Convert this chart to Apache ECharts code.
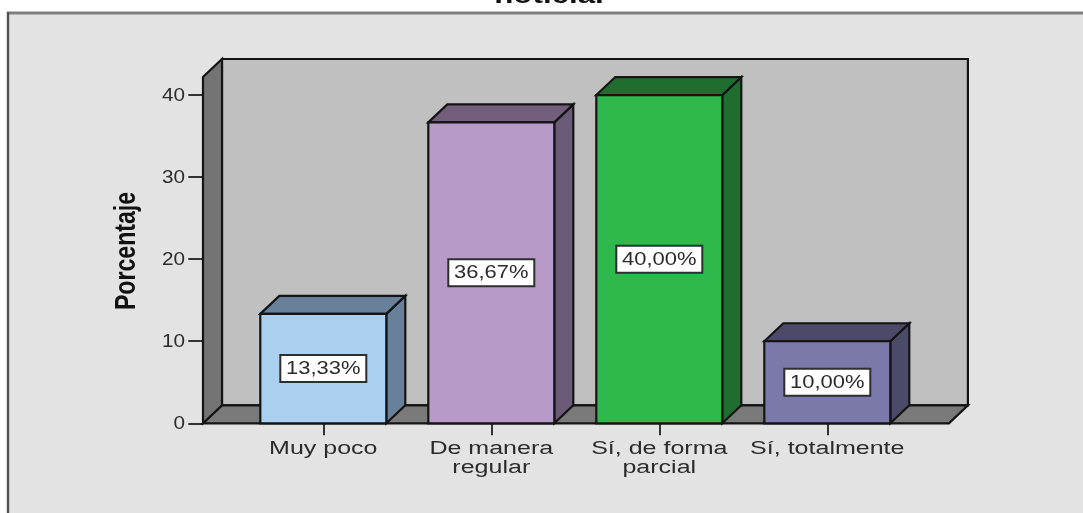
<!DOCTYPE html>
<html>
<head>
<meta charset="utf-8">
<style>
html,body{margin:0;padding:0;background:#fff;overflow:hidden}
#c{width:1083px;height:513px;filter:blur(0.4px)}
</style>
<script src="https://cdn.jsdelivr.net/npm/echarts@6/dist/echarts.min.js"></script>
</head>
<body>
<div id="c"></div>
<script>
const titleText = 'noticia.';
const yName = 'Porcentaje';
const categories = ['Muy poco', 'De manera\nregular', 'Sí, de forma\nparcial', 'Sí, totalmente'];
const percentages = [13.33, 36.67, 40.00, 10.00];
const yTicks = [0, 10, 20, 30, 40];
const frontColors = ['#abcfee', '#b89ac9', '#2fb84b', '#7a79a9'];
const sideColors = ['#68809a', '#6b5a78', '#1f6e2f', '#4b4b69'];
const topColors = ['#68809a', '#735f7c', '#1f6e2f', '#4b4b69'];

const FONT = '"Liberation Sans", Arial, sans-serif';
const INK = '#2b2b2b', LINE = '#141414';
const DX = 19, DY = 18;           // depth of the 3D extrusion
const LEFT_PAD = 120.3, RIGHT_PAD = 121.6;
const BAR_HALF = 63;

function poly(points, fill, z) {
  return {type: 'polygon', z2: z || 0, shape: {points},
    style: {fill, stroke: LINE, lineWidth: 2.2, lineJoin: 'miter'}};
}

function renderScene(params, api) {
  const p0 = api.coord([0, 0]);
  const p3 = api.coord([categories.length - 1, 0]);
  const top = params.coordSys.y;
  const y0 = p0[1];
  const x0 = p0[0] - LEFT_PAD;
  const x1 = p3[0] + RIGHT_PAD;
  return {type: 'group', children: [
    poly([[x0 + DX, top - DY], [x1 + DX, top - DY], [x1 + DX, y0 - DY], [x0 + DX, y0 - DY]], '#c0c0c0'),
    poly([[x0, y0], [x0 + DX, y0 - DY], [x1 + DX, y0 - DY], [x1, y0]], '#7a7a7a'),
    poly([[x0, y0], [x0, top], [x0 + DX, top - DY], [x0 + DX, y0 - DY]], '#747474')
  ]};
}

function renderBar(params, api) {
  const i = api.value(0), v = api.value(1);
  const base = api.coord([i, 0]);
  const tip = api.coord([i, v]);
  const mid = api.coord([i, v / 2]);
  const l = base[0] - BAR_HALF, r = base[0] + BAR_HALF, b = base[1], t = tip[1];
  const label = v.toFixed(2).replace('.', ',') + '%';
  return {type: 'group', children: [
    poly([[r, b], [r + DX, b - DY], [r + DX, t - DY], [r, t]], sideColors[i]),
    poly([[l, t], [l + DX, t - DY], [r + DX, t - DY], [r, t]], topColors[i]),
    poly([[l, b], [l, t], [r, t], [r, b]], frontColors[i]),
    {type: 'rect', shape: {x: mid[0] - 43, y: mid[1] - 13.5, width: 86, height: 27},
      style: {fill: '#ffffff', stroke: '#2e2e2e', lineWidth: 2}},
    {type: 'text', x: mid[0], y: mid[1] + 0.5, scaleX: 1.22,
      style: {text: label, font: '18px ' + FONT, fill: INK, align: 'center', verticalAlign: 'middle'}}
  ]};
}

function renderCatLabel(params, api) {
  const i = api.value(0);
  const p = api.coord([i, 0]);
  return {type: 'text', x: p[0], y: p[1] + 16, scaleX: 1.39,
    style: {text: categories[i], font: '18px ' + FONT, fill: INK, align: 'center',
      verticalAlign: 'top', lineHeight: 19}};
}

function renderTickLabel(params, api) {
  const v = api.value(1);
  const p = api.coord([0, v]);
  return {type: 'text', x: p[0] - LEFT_PAD - 18, y: p[1] + 0.5, scaleX: 1.15,
    style: {text: String(v), font: '18px ' + FONT, fill: INK, align: 'right', verticalAlign: 'middle'}};
}

const chart = echarts.init(document.getElementById('c'), null, {renderer: 'canvas'});
chart.setOption({
  animation: false,
  backgroundColor: '#ffffff',
  grid: {left: 239.3, top: 77, width: 672, height: 346.3, containLabel: false},
  xAxis: {
    type: 'category', data: categories,
    axisLine: {show: false},
    axisTick: {show: true, alignWithLabel: true, length: 12, lineStyle: {color: '#333', width: 2}},
    axisLabel: {show: false},
    splitLine: {show: false}
  },
  yAxis: {
    type: 'value', min: 0, max: 42.2, interval: 10, offset: 36,
    axisLine: {show: true, lineStyle: {color: LINE, width: 1.5}},
    axisTick: {show: true, length: 15, customValues: yTicks, lineStyle: {color: '#333', width: 2}},
    axisLabel: {show: false},
    splitLine: {show: false}
  },
  graphic: [
    {type: 'rect', z: -1, shape: {x: 8, y: 13, width: 1090, height: 510},
      style: {fill: '#e3e3e3'}},
    {type: 'line', z: -1, shape: {x1: 7, y1: 13, x2: 1083, y2: 13},
      style: {stroke: '#808080', lineWidth: 3}},
    {type: 'line', z: -1, shape: {x1: 8, y1: 12, x2: 8, y2: 513},
      style: {stroke: '#505050', lineWidth: 2.4}},
    {type: 'text', z: 5, x: 549, y: 8.5, scaleX: 1.36,
      style: {text: titleText, font: 'bold 23px ' + FONT, fill: '#111', align: 'center', verticalAlign: 'bottom'}},
    {type: 'text', z: 5, x: 127, y: 251, rotation: Math.PI / 2, scaleX: 1.36, scaleY: 1.7,
      style: {text: yName, font: 'bold 17px ' + FONT, fill: '#111', align: 'center', verticalAlign: 'middle'}}
  ],
  series: [
    {type: 'custom', z: 1, silent: true, renderItem: renderScene, data: [[0, 0]], clip: false},
    {type: 'custom', z: 3, silent: true, renderItem: renderBar, clip: false,
      data: percentages.map((v, i) => [i, v])},
    {type: 'custom', z: 4, silent: true, renderItem: renderCatLabel, clip: false,
      data: categories.map((c, i) => [i, 0])},
    {type: 'custom', z: 4, silent: true, renderItem: renderTickLabel, clip: false,
      data: yTicks.map(v => [0, v])}
  ]
});
</script>
</body>
</html>
